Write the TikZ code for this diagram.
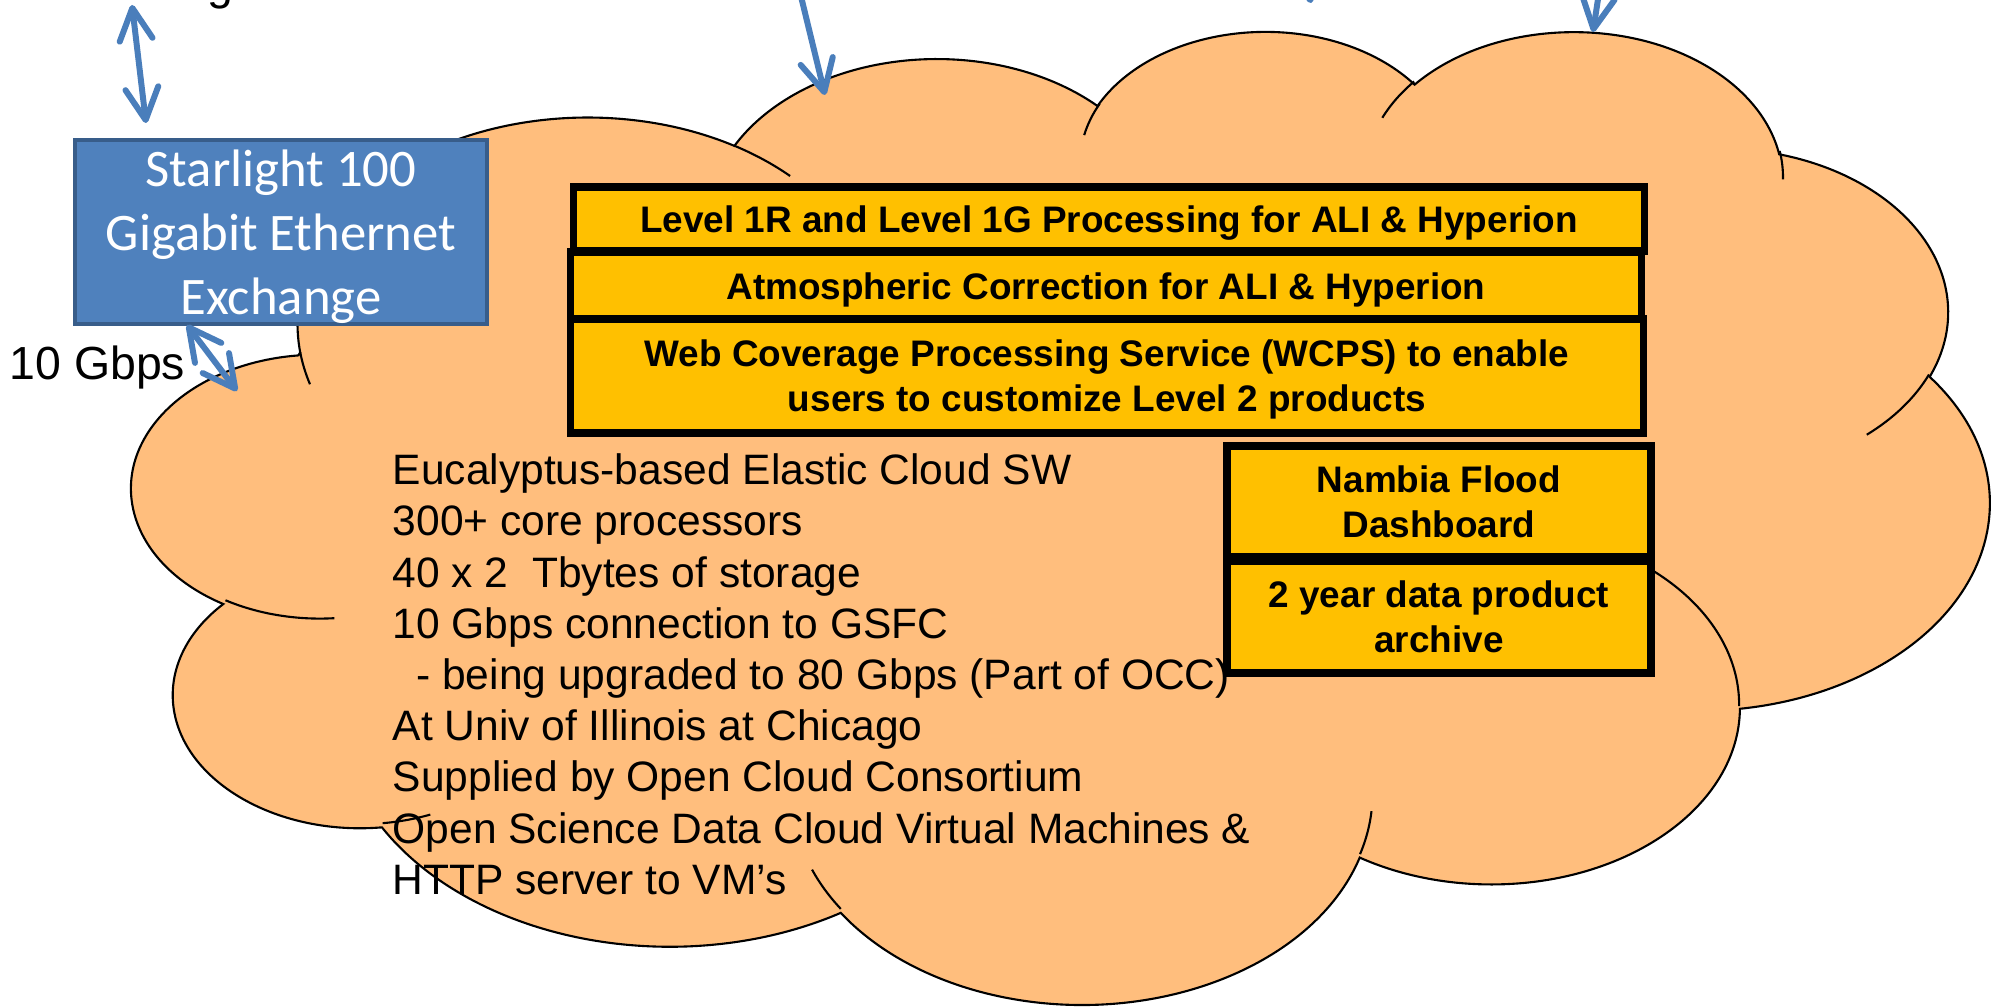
\documentclass[tikz,border=0pt]{standalone}
\usepackage{fontspec}
\setmainfont{Liberation Sans}
\newfontfamily\calibrifont{Carlito}
\usetikzlibrary{arrows.meta}
\definecolor{cloudfill}{HTML}{FFBE7D}
\definecolor{taskgold}{HTML}{FFC000}
\definecolor{linkblue}{HTML}{4A7EBB}
\definecolor{starfill}{HTML}{4F81BD}
\definecolor{starline}{HTML}{385D8A}
\newcommand{\taskbox}[6]{%
  \node[draw=black, line width=2.1pt, fill=taskgold, inner sep=0pt,
        minimum width=#4, minimum height=#5, align=center, text depth=0pt,
        font=\bfseries\fontsize{10.5}{12.8}\selectfont] (#1) at (#2,#3) {#6};}

\begin{document}
\begin{tikzpicture}[x=0.01cm, y=0.01cm,
    >={Straight Barb[round, length=3.2mm, width=3.3mm]},
    link/.style={linkblue, line width=1.7pt, line cap=round}]
  \path[use as bounding box, fill=white] (0,0) rectangle (1996,-1007);
  % cloud outline
  \draw[fill=cloudfill, line width=0.6pt] (300.2,-352.3)
    arc[start angle=187.745, end angle=59.64, x radius=290.2, y radius=206.9]
    arc[start angle=152.02, end angle=45.47, x radius=229.2, y radius=163.6]
    arc[start angle=153.49, end angle=37.31, x radius=187.6, y radius=133.85]
    arc[start angle=139.72, end angle=10.21, x radius=208.7, y radius=148.5]
    arc[start angle=74.77, end angle=-23.21, x radius=229.2, y radius=163.75]
    arc[start angle=37.52, end angle=-81.86, x radius=291.2, y radius=207.6]
    arc[start angle=-0.46, end angle=-121.97, x radius=248.6, y radius=177.1]
    arc[start angle=-16.84, end angle=-146.22, x radius=290.2, y radius=207.5]
    arc[start angle=-58.99, end angle=-150.20, x radius=331.8, y radius=237.4]
    arc[start angle=-83.31, end angle=-223.11, x radius=187.4, y radius=133.2]
    arc[start angle=-120.35, end angle=-264.11, x radius=186.7, y radius=133.85]
    -- cycle;
  % inner folds of the cloud
  \draw[line width=0.6pt]
    (334.3,-618.2) arc[start angle=-85.55, end angle=-120.35, x radius=186.7, y radius=133.85]
    (430.3,-814.6) arc[start angle=-68.24, end angle=-83.31, x radius=187.4, y radius=133.2]
    (840.8,-908.9) arc[start angle=-146.22, end angle=-158.48, x radius=290.2, y radius=207.5]
    (1371.5,-811.2) arc[start angle=-4.74, end angle=-16.84, x radius=290.2, y radius=207.5]
    (1599.4,-545.6) arc[start angle=64.03, end angle=-0.46, x radius=248.6, y radius=177.1]
    (1929.0,-374.5) arc[start angle=-23.21, end angle=-49.64, x radius=229.2, y radius=163.75]
    (1779.7,-151.0) arc[start angle=10.21, end angle=-0.82, x radius=208.7, y radius=148.5]
    (1382.3,-117.8) arc[start angle=156.29, end angle=139.72, x radius=208.7, y radius=148.5]
    (1084.2,-135.1) arc[start angle=167.73, end angle=153.49, x radius=187.6, y radius=133.85]
    (734.3,-145.7) arc[start angle=59.64, end angle=45.75, x radius=290.2, y radius=206.9]
    (310.0,-384.3) arc[start angle=-163.19, end angle=-172.255, x radius=290.2, y radius=206.9];

  \node[anchor=north west, inner sep=0pt, align=left,
        font=\fontsize{12.1}{14.57}\selectfont] (specs) at (392,-453)
    {Eucalyptus-based Elastic Cloud SW\\
     300+ core processors\\
     40 x 2~~Tbytes of storage\\
     10 Gbps connection to GSFC\\
     \ \ - being upgraded to 80 Gbps (Part of OCC)\\
     At Univ of Illinois at Chicago\\
     Supplied by Open Cloud Consortium\\
     Open Science Data Cloud Virtual Machines \&\\
     HTTP server to VM’s};

  \taskbox{lvl}{1109}{-219}{10.70cm}{0.64cm}{Level 1R and Level 1G Processing for ALI \& Hyperion}
  \taskbox{atm}{1106}{-286.5}{10.70cm}{0.69cm}{Atmospheric Correction for ALI \& Hyperion}
  \taskbox{wcps}{1107}{-376}{10.72cm}{1.14cm}{Web Coverage Processing Service (WCPS) to enable\\users to customize Level 2 products}
  \taskbox{dash}{1439}{-501.5}{4.24cm}{1.11cm}{Nambia Flood\\Dashboard}
  \taskbox{arch}{1439}{-617}{4.24cm}{1.12cm}{2 year data product\\archive}

  \node[draw=starline, line width=1pt, fill=starfill, text=white, inner sep=0pt,
        minimum width=4.12cm, minimum height=1.84cm, align=center, text depth=0pt,
        font=\calibrifont\fontsize{15}{18.2}\selectfont] (star) at (281,-232)
    {Starlight 100\\Gigabit Ethernet\\Exchange};

  \node[anchor=base west, inner sep=0pt, font=\fontsize{13.2}{15.8}\selectfont] (gbps) at (9,-380) {10 Gbps};
  \node[anchor=base west, inner sep=0pt, font=\fontsize{13.2}{15.8}\selectfont] (cut) at (207,0) {g};

  % links
  \coordinate (up0) at (132,-5);
  \coordinate (up0end) at (146,-123);
  \coordinate (dn0) at (187,-325);
  \coordinate (dn0end) at (237,-391);
  \coordinate (in0) at (797,20);
  \coordinate (in0end) at (825,-95);
  \coordinate (in1) at (1290,90);
  \coordinate (in1end) at (1311,-3);
  \coordinate (in2) at (1607,60);
  \coordinate (in2end) at (1593,-32);
  \draw[link, <->] (up0) -- (up0end);
  \draw[link, <->] (dn0) -- (dn0end);
  \draw[link, ->] (in0) -- (in0end);
  \draw[link, ->] (in1) -- (in1end);
  \draw[link, ->] (in2) -- (in2end);
\end{tikzpicture}
\end{document}
